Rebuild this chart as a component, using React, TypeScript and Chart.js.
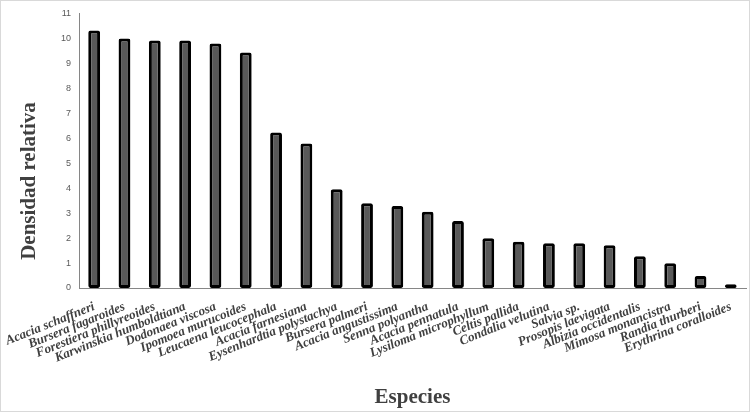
import React, { useEffect, useRef } from "react";
import { Chart, registerables } from "chart.js";

Chart.register(...registerables);

const species: string[] = [
  "Acacia schaffneri",
  "Bursera fagaroides",
  "Forestiera phillyreoides",
  "Karwinskia humboldtiana",
  "Dodonaea viscosa",
  "Ipomoea murucoides",
  "Leucaena leucocephala",
  "Acacia farnesiana",
  "Eysenhardtia polystachya",
  "Bursera palmeri",
  "Acacia angustissima",
  "Senna polyantha",
  "Acacia pennatula",
  "Lysiloma microphyllum",
  "Celtis pallida",
  "Condalia velutina",
  "Salvia sp.",
  "Prosopis laevigata",
  "Albizia occidentalis",
  "Mimosa monancistra",
  "Randia thurberi",
  "Erythrina coralloides",
];

const densidad: number[] = [
  10.32, 9.99, 9.91, 9.91, 9.79, 9.43, 6.23, 5.79, 3.96, 3.39, 3.28, 3.05,
  2.68, 1.99, 1.85, 1.79, 1.79, 1.71, 1.27, 0.99, 0.48, 0.15,
];

const yTitle = "Densidad relativa";
const xTitle = "Especies";

const titleFont = "bold 21px 'Liberation Serif', serif";

const decor = {
  id: "decor",
  afterDraw(chart: any) {
    const ctx = chart.ctx;
    ctx.save();
    ctx.strokeStyle = "#d9d9d9";
    ctx.lineWidth = 1;
    ctx.strokeRect(0.5, 0.5, chart.width - 1, chart.height - 1);
    ctx.fillStyle = "#404040";
    ctx.font = titleFont;
    ctx.textAlign = "center";
    ctx.textBaseline = "middle";
    const area = chart.chartArea;
    ctx.fillText(xTitle, (area.left + area.right) / 2, 398);
    ctx.translate(30, 181);
    ctx.rotate(-Math.PI / 2);
    ctx.fillText(yTitle, 0, 0);
    ctx.restore();
  },
};

export default function App() {
  const ref = useRef<HTMLCanvasElement | null>(null);
  useEffect(() => {
    if (!ref.current) return;
    const chart = new Chart(ref.current, {
      type: "bar",
      data: {
        labels: species,
        datasets: [
          {
            data: densidad,
            backgroundColor: "#595959",
            borderColor: "#000000",
            borderWidth: 3,
            borderRadius: 2,
            borderSkipped: false,
            barPercentage: 0.39,
            categoryPercentage: 1,
          },
        ],
      },
      options: {
        animation: false,
        responsive: false,
        maintainAspectRatio: false,
        layout: { padding: { top: 13, right: 4, left: 0, bottom: 0 } },
        plugins: { legend: { display: false }, tooltip: { enabled: false } },
        scales: {
          x: {
            grid: { display: false, drawTicks: false },
            border: { display: true, color: "#868686", width: 1 },
            ticks: {
              autoSkip: false,
              minRotation: 22,
              maxRotation: 22,
              padding: 11,
              color: "#404040",
              font: { family: "'Liberation Serif', serif", size: 13, style: "italic", weight: "bold" },
            },
            afterFit(scale: any) {
              scale.height = 124;
              scale.paddingLeft = 0;
              scale.paddingRight = 0;
            },
          },
          y: {
            min: 0,
            max: 11,
            grid: { display: false, drawTicks: false },
            border: { display: true, color: "#868686", width: 1 },
            ticks: {
              stepSize: 1,
              padding: 8,
              color: "#595959",
              font: { family: "'Liberation Sans', sans-serif", size: 9 },
            },
            afterFit(scale: any) {
              scale.width = 79;
            },
          },
        },
      },
      plugins: [decor],
    });
    return () => chart.destroy();
  }, []);
  return (
    <div style={{ position: "fixed", left: 0, top: 0, width: 750, height: 412, background: "#fff" }}>
      <canvas ref={ref} width={750} height={412} style={{ width: 750, height: 412 }} />
    </div>
  );
}
